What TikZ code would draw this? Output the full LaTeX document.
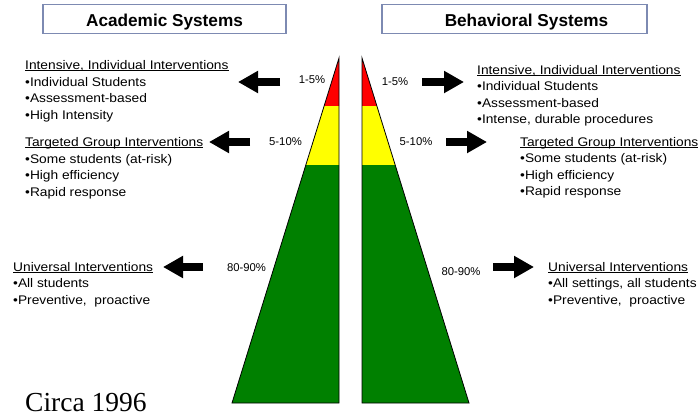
\documentclass[tikz,border=0pt]{standalone}
\usepackage{fontspec}
\setmainfont{Liberation Sans}
\newfontfamily\widesans[FakeStretch=1.1]{Liberation Sans}
\newfontfamily\circaserif{Liberation Serif}
\usetikzlibrary{arrows.meta}
\definecolor{tierred}{RGB}{255,0,0}
\definecolor{tieryellow}{RGB}{255,255,0}
\definecolor{tiergreen}{RGB}{0,128,0}
\definecolor{boxslate}{RGB}{125,138,178}
\newcommand{\headline}[1]{\setbox0\hbox{#1}\rlap{\rule[-1.8pt]{\wd0}{0.9pt}}\box0}

\begin{document}
\begin{tikzpicture}[x=1pt,y=-1pt,
    titlebox/.style={draw=boxslate, line width=1.2pt, minimum width=#1, minimum height=29pt, inner sep=0pt},
    titletext/.style={font=\fontsize{17.2}{20}\selectfont\bfseries, anchor=base, inner sep=0pt},
    tiertext/.style={font=\widesans\fontsize{12.5}{16.5}\selectfont, align=left, anchor=base west, inner sep=0pt},
    pct/.style={font=\fontsize{11.3}{13}\selectfont, inner sep=0pt},
    bigarrow/.style={line width=8pt, -{Triangle[width=21pt,length=20pt]}}]
    \useasboundingbox (0,0) rectangle (698,416);
    % Titles
    \node[titlebox=243] (acadbox) at (164.5,19) {};
    \node[titletext] (acadtitle) at (164.5,26) {Academic Systems};
    \node[titlebox=265] (behbox) at (514.5,19) {};
    \node[titletext] (behtitle) at (526.5,26) {Behavioral Systems};
    % Left pyramid
    \begin{scope}
        \clip (339,58) -- (232,403) -- (339,403) -- cycle;
        \fill[tierred] (200,50) rectangle (345,106);
        \fill[tieryellow] (200,106) rectangle (345,165);
        \fill[tiergreen] (200,165) rectangle (345,410);
    \end{scope}
    \draw[line width=0.8pt] (339,58) -- (232,403) -- (339,403) -- cycle;
    % Right pyramid
    \begin{scope}
        \clip (362,58) -- (469,403) -- (362,403) -- cycle;
        \fill[tierred] (355,50) rectangle (500,106);
        \fill[tieryellow] (355,106) rectangle (500,165);
        \fill[tiergreen] (355,165) rectangle (500,410);
    \end{scope}
    \draw[line width=0.8pt] (362,58) -- (469,403) -- (362,403) -- cycle;
    % Percentages
    \node[pct] (acadtop) at (312,80) {1-5\%};
    \node[pct] (acadmid) at (285.5,142) {5-10\%};
    \node[pct] (acadlow) at (246.5,268) {80-90\%};
    \node[pct] (behtop) at (395,82) {1-5\%};
    \node[pct] (behmid) at (416,142) {5-10\%};
    \node[pct] (behlow) at (461,272) {80-90\%};
    % Arrows
    \foreach \tip/\tail/\y in {238/280/82, 209/250/142, 163/203/267, 464/422/82, 487/446/142, 534/493/267}
        \draw[bigarrow] (\tail,\y) -- (\tip,\y);
    % Academic tiers (anchored at the last line)
    \node[tiertext] (acadintensive) at (25,119) {\headline{Intensive, Individual Interventions}\\•Individual Students\\•Assessment-based\\•High Intensity};
    \node[tiertext] (acadtargeted) at (25,196) {\headline{Targeted Group Interventions}\\•Some students (at-risk)\\•High efficiency\\•Rapid response};
    \node[tiertext] (acaduniversal) at (13,304) {\headline{Universal Interventions}\\•All students\\•Preventive,~~proactive};
    % Behavioral tiers
    \node[tiertext] (behintensive) at (477,123.5) {\headline{Intensive, Individual Interventions}\\•Individual Students\\•Assessment-based\\•Intense, durable procedures};
    \node[tiertext] (behtargeted) at (520,195.5) {\headline{Targeted Group Interventions}\\•Some students (at-risk)\\•High efficiency\\•Rapid response};
    \node[tiertext] (behuniversal) at (548,304) {\headline{Universal Interventions}\\•All settings, all students\\•Preventive,~~proactive};
    % Date
    \node[font=\circaserif\fontsize{27.5}{30}\selectfont, anchor=base west, inner sep=0pt] (circa) at (25,411.5) {Circa 1996};
\end{tikzpicture}
\end{document}
